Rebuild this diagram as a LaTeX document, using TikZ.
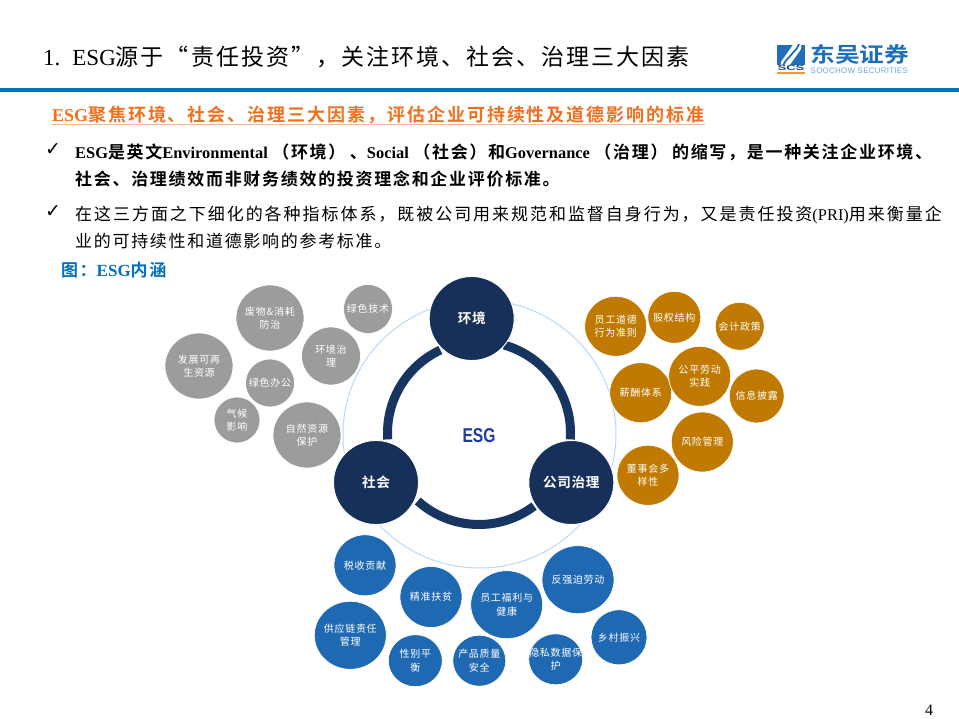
\documentclass[tikz,border=0pt]{standalone}
\usepackage{fontspec}
\usetikzlibrary{shapes.geometric}
\setmainfont{Noto Sans CJK SC}[BoldFont={Noto Sans CJK SC Bold}]
\newfontfamily\latinfont{Liberation Serif}
\newfontfamily\arialfont{Liberation Sans}
\newfontfamily\checkfont{DejaVu Sans}
\newcommand{\lat}[1]{{\latinfont #1}}
\newcommand{\lats}[1]{{\latinfont\fontsize{16.4}{20}\selectfont #1}}
\newcommand{\zh}[3]{\fontsize{#1}{#2}\selectfont\addfontfeature{LetterSpace=#3}}
\definecolor{barblue}{HTML}{0070C0}
\definecolor{navy}{HTML}{17305A}
\definecolor{arcnavy}{HTML}{163560}
\definecolor{ringblue}{HTML}{BBD9F7}
\definecolor{bubgrey}{HTML}{9C9C9C}
\definecolor{bubgold}{HTML}{C07A02}
\definecolor{bubblue}{HTML}{1F69B3}
\definecolor{subor}{HTML}{F0701E}
\definecolor{subline}{HTML}{F6B78D}
\definecolor{logoblue}{HTML}{1F6FB8}
\definecolor{logolight}{HTML}{6FA8DC}
\definecolor{logodark}{HTML}{174A7C}
\definecolor{logoor}{HTML}{F29A2E}
\definecolor{esgblue}{HTML}{1F3C9A}
\tikzset{
  bub/.style={ellipse,inner sep=0pt,outer sep=0pt,draw=white,line width=.7pt},
  sz/.style 2 args={minimum width=#1pt,minimum height=#2pt},
  greyb/.style={bub,fill=bubgrey},
  goldb/.style={bub,fill=bubgold},
  blueb/.style={bub,fill=bubblue},
  navyb/.style={bub,fill=navy,line width=.9pt},
  bubtext/.style={text=white,align=center,inner sep=0pt,font=\zh{10}{13.4}{7}},
  navytext/.style={text=white,align=center,inner sep=0pt,font=\bfseries\zh{13.6}{15}{5}},
  linetext/.style={anchor=base west,inner sep=0pt},
  bodyb/.style={linetext,font=\bfseries\zh{17}{20}{10}},
  bodyr/.style={linetext,font=\zh{17}{20}{10}},
  checkmark/.style={inner sep=0pt,font=\checkfont\fontsize{19}{19}\selectfont},
  ringarc/.style={draw=arcnavy,line width=9pt},
}
\newcommand{\bubble}[7]{\node[#1,sz={#5}{#6}] (#2) at (#3,#4) {};\node[bubtext] (#2-t) at (#2) {#7};}
\newcommand{\navybubble}[4]{\node[navyb,sz={85}{84}] (#1) at (#2,#3) {};\node[navytext] (#1-t) at (#1) {#4};}
\begin{document}
\begin{tikzpicture}[x=1pt,y=-1pt]
\useasboundingbox (0,0) rectangle (959,719);
\fill[white] (0,0) rectangle (959,719);
% header
\node[linetext,font=\zh{23}{26}{8.9}] (title) at (43,65.5) {\lat{1.}\hspace{12pt}\lat{ESG}源于“责任投资”，关注环境、社会、治理三大因素};
\fill[barblue] (0,88) rectangle (959,92);
% logo
\begin{scope}
\clip (777,45) rectangle (805,65);
\fill[logoblue] (777,45) rectangle (805,65);
\draw[white,line width=9pt,line cap=round] (785,64) -- (797,47);
\draw[logoblue,line width=1.8pt] (783,66) .. controls (785,60) and (789,58) .. (791,55) .. controls (793,52) and (797,50) .. (799,44);
\end{scope}
\node[inner sep=0pt,text=logodark,xscale=1.75,font=\arialfont\fontsize{7.5}{8}\selectfont\bfseries] (scs) at (791,68.4) {SCS};
\fill[logoor] (777,72) rectangle (805,74);
\node[anchor=base west,inner sep=0pt,text=logoblue,xscale=1.18,font=\bfseries\fontsize{21}{22}\selectfont] (logoname) at (810,63) {东吴证券};
\node[anchor=west,inner sep=0pt,text=logolight,font=\arialfont\fontsize{8}{9}\selectfont\addfontfeature{LetterSpace=3}] (logoen) at (810.5,71) {SOOCHOW SECURITIES};
% subtitle
\node[linetext,text=subor,font=\bfseries\zh{18}{20}{10.8}] (sub) at (52,122) {\lat{ESG}聚焦环境、社会、治理三大因素，评估企业可持续性及道德影响的标准};
\draw[subline,line width=1pt] (52,124.6) -- (705,124.6);
% bullets
\node[checkmark] (chk1) at (53,149.5) {✓};
\node[bodyb] (l1) at (75,158.5) {\hbox to 857pt{\lats{ESG}是英文\lats{Environmental}\hfil（环境）\hfil、\lats{Social}\hfil（社会）和\lats{Governance}\hfil（治理）\hfil 的缩写，是一种关注企业环境、}};
\node[bodyb] (l2) at (75,186) {社会、治理绩效而非财务绩效的投资理念和企业评价标准。};
\node[checkmark] (chk2) at (53,211.5) {✓};
\node[linetext,font=\zh{17}{20}{11.5}] (l3) at (75,220.5) {在这三方面之下细化的各种指标体系，既被公司用来规范和监督自身行为，又是责任投资\lats{(PRI)}用来衡量企};
\node[bodyr] (l4) at (75,247.5) {业的可持续性和道德影响的参考标准。};
\node[linetext,text=barblue,font=\bfseries\zh{17}{18}{9}] (cap) at (61,277) {图：\lat{ESG}内涵};
% thin ring
\draw[ringblue,line width=1pt] (479.5,434) ellipse[x radius=136.5,y radius=134];
% thick arcs
\begin{scope}[x=1pt,y=1pt,shift={(479pt,-433pt)}]
\draw[ringarc] (184:91.5) arc[start angle=184,end angle=115,radius=91.5];
\draw[ringarc] (74:91.5) arc[start angle=74,end angle=-4,radius=91.5];
\draw[ringarc] (228:91.5) arc[start angle=228,end angle=307,radius=91.5];
\end{scope}
\node[inner sep=0pt,text=esgblue,xscale=.78,font=\arialfont\fontsize{20}{22}\selectfont\bfseries] (esg) at (479,436) {ESG};
% navy circles
\navybubble{env}{471.7}{318.5}{环境}
\navybubble{soc}{376}{482.5}{社会}
\navybubble{gov}{571.3}{482.5}{公司治理}
% grey
\bubble{greyb}{g1}{270}{318}{68}{66}{废物\&消耗\\防治}
\bubble{greyb}{g2}{368}{309}{49}{49}{绿色技术}
\bubble{greyb}{g3}{331}{356}{59}{58}{环境治\\理}
\bubble{greyb}{g4}{199}{366}{68}{66}{发展可再\\生资源}
\bubble{greyb}{g5}{270}{383}{49}{48}{绿色办公}
\bubble{greyb}{g6}{237}{420}{46}{46}{气候\\影响}
\bubble{greyb}{g7}{307}{435}{68}{66}{自然资源\\保护}
% gold
\bubble{goldb}{o1}{615.7}{326.3}{62}{60}{员工道德\\行为准则}
\bubble{goldb}{o2}{674.3}{317.3}{53}{52}{股权结构}
\bubble{goldb}{o3}{739.7}{326.3}{49}{48}{会计政策}
\bubble{goldb}{o4}{640.7}{392.7}{62}{60}{薪酬体系}
\bubble{goldb}{o5}{699.7}{376.3}{62}{60}{公平劳动\\实践}
\bubble{goldb}{o6}{756.7}{396}{55}{54}{信息披露}
\bubble{goldb}{o7}{702.3}{442}{62}{60}{风险管理}
\bubble{goldb}{o8}{648}{475.3}{62}{60}{董事会多\\样性}
% blue
\bubble{blueb}{b1}{365}{565.3}{62}{61}{税收贡献}
\bubble{blueb}{b2}{431}{597}{62}{61}{精准扶贫}
\bubble{blueb}{b3}{506.7}{604.7}{72}{68}{员工福利与\\健康}
\bubble{blueb}{b4}{578}{579.7}{72}{68}{反强迫劳动}
\bubble{blueb}{b5}{350.3}{635.3}{72}{68}{供应链责任\\管理}
\bubble{blueb}{b6}{415.3}{660.7}{54}{52}{性别平\\衡}
\bubble{blueb}{b7}{479.3}{660.7}{53}{51}{产品质量\\安全}
\bubble{blueb}{b8}{555.7}{659.3}{54}{51}{隐私数据保\\护}
\bubble{blueb}{b9}{619}{637.3}{56}{55}{乡村振兴}
% page number
\node[inner sep=0pt,font=\latinfont\fontsize{16}{18}\selectfont] (pg) at (929,710.5) {4};
\end{tikzpicture}
\end{document}
